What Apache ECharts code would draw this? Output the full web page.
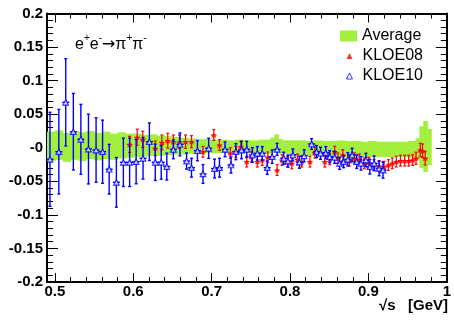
<!DOCTYPE html>
<html><head><meta charset="utf-8">
<script src="https://cdn.jsdelivr.net/npm/echarts@6/dist/echarts.min.js"></script>
<style>html,body{margin:0;padding:0;background:#fff}#c{width:454px;height:327px}</style>
</head><body><div id="c"></div>
<script>
// ---- tick labels ----
const xMajorTicks = [0.5, 0.6, 0.7, 0.8, 0.9, 1.0];
const xMinorTicks = [0.5,0.52,0.54,0.56,0.58,0.6,0.62,0.64,0.66,0.68,0.7,0.72,0.74,0.76,0.78,0.8,0.82,0.84,0.86,0.88,0.9,0.92,0.94,0.96,0.98,1.0];
const yTickLabels = [-0.2, -0.15, -0.1, -0.05, 0, 0.05, 0.1, 0.15, 0.2];

// ---- Average band (bin left edges, upper, lower); last edge closes the band ----
const bandX  = [0.49,0.50,0.51,0.52,0.53,0.54,0.55,0.56,0.57,0.58,0.59,0.60,0.61,0.62,0.63,0.64,0.65,0.66,0.67,0.68,0.69,0.70,0.71,0.72,0.73,0.74,0.75,0.76,0.77,0.775,0.78,0.785,0.79,0.80,0.81,0.82,0.83,0.84,0.85,0.86,0.87,0.88,0.89,0.90,0.91,0.92,0.93,0.94,0.95,0.96,0.965,0.97,0.975,0.98];
const bandHi = [0.024,0.026,0.022,0.025,0.023,0.025,0.022,0.024,0.021,0.023,0.021,0.021,0.019,0.020,0.018,0.017,0.016,0.015,0.014,0.013,0.013,0.012,0.012,0.011,0.012,0.011,0.011,0.012,0.012,0.015,0.020,0.013,0.011,0.011,0.011,0.010,0.011,0.010,0.010,0.011,0.010,0.010,0.009,0.010,0.009,0.009,0.009,0.009,0.010,0.014,0.032,0.040,0.028];
const bandLo = [-0.020,-0.018,-0.021,-0.018,-0.020,-0.017,-0.019,-0.017,-0.018,-0.016,-0.015,-0.014,-0.013,-0.012,-0.012,-0.011,-0.010,-0.010,-0.009,-0.009,-0.008,-0.008,-0.008,-0.007,-0.008,-0.008,-0.008,-0.008,-0.009,-0.007,-0.005,-0.009,-0.009,-0.010,-0.011,-0.012,-0.012,-0.013,-0.013,-0.013,-0.014,-0.014,-0.014,-0.014,-0.014,-0.014,-0.014,-0.014,-0.015,-0.018,-0.030,-0.036,-0.026];

// ---- KLOE10 ----
const k10X = [0.4938,0.5051,0.5139,0.5236,0.5332,0.5429,0.5526,0.5609,0.5693,0.5785,0.5874,0.5954,0.6037,0.6125,0.6206,0.6281,0.6357,0.6428,0.6512,0.6596,0.6680,0.6743,0.6819,0.6890,0.6962,0.7037,0.7100,0.7171,0.7247,0.7309,0.7381,0.7448,0.7520,0.7583,0.7646,0.7709,0.7772,0.7835,0.7919,0.7973,0.8036,0.8120,0.8180,0.8275,0.8338,0.8389,0.8456,0.8506,0.8569,0.8632,0.8683,0.8737,0.8792,0.8851,0.8905,0.8968,0.9018,0.9073,0.9136,0.9186];
const k10Y = [-0.0172,-0.0059,0.0677,0.0239,0.0126,-0.0019,-0.0034,-0.0059,-0.0320,-0.0515,-0.0217,-0.0217,-0.0207,-0.0157,0.0090,-0.0217,-0.0217,-0.0280,-0.0024,0.0050,-0.0198,-0.0297,-0.0044,-0.0390,-0.0008,-0.0310,-0.0297,-0.0024,-0.0257,-0.0058,-0.0034,-0.0024,-0.0108,-0.0083,-0.0083,-0.0297,-0.0133,-0.0024,-0.0157,-0.0198,-0.0108,-0.0215,-0.0120,0.0056,-0.0058,-0.0083,-0.0073,-0.0133,-0.0143,-0.0232,-0.0207,-0.0173,-0.0108,-0.0207,-0.0232,-0.0183,-0.0282,-0.0232,-0.0307,-0.0332];
const k10E = [0.070,0.063,0.065,0.057,0.052,0.052,0.048,0.047,0.037,0.037,0.036,0.036,0.033,0.031,0.028,0.027,0.025,0.020,0.014,0.017,0.012,0.014,0.015,0.014,0.015,0.014,0.014,0.011,0.012,0.012,0.013,0.012,0.011,0.010,0.010,0.010,0.010,0.009,0.009,0.009,0.009,0.009,0.009,0.008,0.009,0.009,0.009,0.009,0.009,0.009,0.009,0.010,0.010,0.010,0.010,0.010,0.011,0.011,0.011,0.012];

// ---- KLOE08 ----
const k08X = [0.5954,0.6050,0.6122,0.6281,0.6365,0.6440,0.6512,0.6590,0.6667,0.6743,0.6890,0.7028,0.7100,0.7239,0.7309,0.7373,0.7448,0.7507,0.7583,0.7646,0.7717,0.7835,0.7898,0.7969,0.8023,0.8095,0.8149,0.8254,0.8317,0.8443,0.8506,0.8569,0.8611,0.8674,0.8758,0.8821,0.8884,0.8947,0.9002,0.9073,0.9136,0.9199,0.9254,0.9304,0.9355,0.9409,0.9463,0.9514,0.9564,0.9607,0.9661,0.9690,0.9724];
const k08Y = [0.0050,0.0156,0.0126,-0.0008,0.0080,0.0106,0.0090,0.0090,0.0090,0.0090,-0.0060,0.0190,0.0040,-0.0080,-0.0060,0.0016,-0.0207,-0.0133,-0.0207,-0.0183,-0.0143,-0.0332,-0.0183,-0.0207,-0.0232,-0.0173,-0.0207,-0.0207,-0.0073,-0.0207,-0.0173,-0.0058,-0.0157,-0.0108,-0.0192,-0.0157,-0.0173,-0.0232,-0.0222,-0.0257,-0.0272,-0.0282,-0.0257,-0.0232,-0.0207,-0.0192,-0.0192,-0.0192,-0.0183,-0.0157,-0.0034,-0.0044,-0.0157];
const k08E = [0.012,0.012,0.012,0.011,0.011,0.011,0.010,0.010,0.010,0.009,0.008,0.008,0.008,0.008,0.008,0.008,0.008,0.008,0.008,0.008,0.008,0.008,0.008,0.008,0.008,0.008,0.008,0.008,0.008,0.008,0.008,0.008,0.008,0.008,0.008,0.008,0.008,0.008,0.008,0.008,0.008,0.008,0.008,0.008,0.008,0.008,0.008,0.008,0.008,0.009,0.010,0.010,0.010];

const FONT = '"Liberation Sans", Arial, Helvetica, sans-serif';
const GREEN = '#a2f03c';
const RED = '#ff0000';
const BLUE = '#0000ff';

const bandData = bandHi.map((h, i) => [bandX[i], bandX[i + 1], bandLo[i], h]);
const k10Data = k10X.map((x, i) => [x, k10Y[i], k10E[i]]);
const k08Data = k08X.map((x, i) => [x, k08Y[i], k08E[i]]);

function errRender(color, lw, dx) {
  return function (params, api) {
    const x = api.value(0), y = api.value(1), e = api.value(2);
    const c = api.coord([x, y]);
    const t = api.coord([x, y + e]);
    const b = api.coord([x, y - e]);
    const l = api.coord([x - dx, y]);
    const r = api.coord([x + dx, y]);
    const st = { stroke: color, lineWidth: lw };
    return { type: 'group', children: [
      { type: 'line', shape: { x1: c[0], y1: t[1], x2: c[0], y2: b[1] }, style: st },
      { type: 'line', shape: { x1: l[0], y1: c[1], x2: r[0], y2: c[1] }, style: st },
      { type: 'line', shape: { x1: c[0] - 1.5, y1: t[1], x2: c[0] + 1.5, y2: t[1] }, style: st },
      { type: 'line', shape: { x1: c[0] - 1.5, y1: b[1], x2: c[0] + 1.5, y2: b[1] }, style: st }
    ]};
  };
}

const axisLbl = { fontFamily: FONT, fontWeight: 'bold', fontSize: 15, color: '#000' };
function xAx(pos, major, showLine, showLabel) {
  return {
    type: 'value', min: 0.49, max: 1.0, position: pos,
    axisLine: { show: showLine, onZero: false, lineStyle: { color: '#000', width: 2 } },
    axisTick: { show: true, inside: true, length: major ? 9 : 5,
      customValues: major ? xMajorTicks : xMinorTicks, lineStyle: { color: '#000', width: 1 } },
    axisLabel: Object.assign({ show: showLabel, customValues: xMajorTicks, margin: 2,
      formatter: v => String(+v.toFixed(2)) }, axisLbl),
    splitLine: { show: false }
  };
}
function yAx(pos, showLabel) {
  return {
    type: 'value', min: -0.2, max: 0.2, interval: 0.05, position: pos,
    axisLine: { show: true, onZero: false, lineStyle: { color: '#000', width: 2 } },
    axisTick: { show: true, inside: true, length: 11, lineStyle: { color: '#000', width: 1 } },
    minorTick: { show: true, splitNumber: 5, length: 6, lineStyle: { color: '#000', width: 1 } },
    axisLabel: Object.assign({ show: showLabel, margin: 4,
      formatter: v => Math.abs(v) < 1e-9 ? '-0' : String(+v.toFixed(2)) }, axisLbl),
    splitLine: { show: false }
  };
}

const chart = echarts.init(document.getElementById('c'), null, { renderer: 'canvas' });
chart.setOption({
  animation: false,
  backgroundColor: '#fff',
  grid: { left: 47, right: 2, top: 13.5, bottom: 45, containLabel: false },
  xAxis: [xAx('bottom', true, true, true), xAx('bottom', false, false, false),
          xAx('top', true, true, false), xAx('top', false, false, false)],
  yAxis: [yAx('left', true), yAx('right', false)],
  title: {
    text: '{m|e}{s|+}{m|e}{s|-}{a|→}{m|π}{s|+}{m|π}{s|-}',
    left: 70, top: 28,
    textStyle: { fontWeight: 'normal', rich: {
      m: { fontFamily: FONT, fontWeight: 'normal', fontSize: 16, color: '#000', lineHeight: 20, verticalAlign: 'bottom' },
      a: { fontFamily: '"DejaVu Sans", sans-serif', fontWeight: 'normal', fontSize: 16, color: '#000', lineHeight: 20, verticalAlign: 'bottom' },
      s: { fontFamily: FONT, fontWeight: 'normal', fontSize: 10, color: '#000', lineHeight: 10, verticalAlign: 'top' }
    } }
  },
  legend: [
    { data: [{ name: 'Average', icon: 'rect', itemStyle: { color: GREEN } }],
      left: 335, top: 21, itemWidth: 17, itemHeight: 11, selectedMode: false,
      textStyle: { fontFamily: FONT, fontSize: 16, color: '#000', lineHeight: 20 } },
    { data: [
        { name: 'KLOE08', icon: 'triangle', itemStyle: { color: RED, borderWidth: 0 } },
        { name: 'KLOE10', icon: 'triangle', itemStyle: { color: '#fff', borderColor: BLUE, borderWidth: 1 } }
      ],
      orient: 'vertical', left: 341, top: 41, itemWidth: 6, itemHeight: 6, itemGap: 0, selectedMode: false,
      textStyle: { fontFamily: FONT, fontSize: 16, color: '#000', lineHeight: 20, padding: [0, 0, 0, 5] } }
  ],
  graphic: [{
    type: 'text', right: 6, top: 298,
    style: { text: '√s   [GeV]', fontFamily: FONT, fontWeight: 'bold', fontSize: 15, fill: '#000' }
  }],
  series: [
    { name: 'Average', type: 'custom', xAxisIndex: 0, yAxisIndex: 0, data: bandData,
      encode: { x: [0, 1], y: [2, 3] }, itemStyle: { color: GREEN }, z: 1,
      renderItem: function (params, api) {
        const p0 = api.coord([api.value(0), api.value(3)]);
        const p1 = api.coord([api.value(1), api.value(2)]);
        return { type: 'rect', shape: { x: p0[0], y: p0[1], width: p1[0] - p0[0] + 0.6, height: p1[1] - p0[1] },
          style: { fill: GREEN } };
      } },
    { name: 'KLOE08 err', type: 'custom', data: k08Data, encode: { x: 0, y: 1 }, z: 3,
      renderItem: errRender(RED, 1.2, 0.0035) },
    { name: 'KLOE08', type: 'scatter', data: k08Data, encode: { x: 0, y: 1 }, z: 4,
      symbol: 'triangle', symbolSize: 5, itemStyle: { color: RED } },
    { name: 'KLOE10 err', type: 'custom', data: k10Data, encode: { x: 0, y: 1 }, z: 5,
      renderItem: errRender(BLUE, 1.4, 0.0045) },
    { name: 'KLOE10', type: 'scatter', data: k10Data, encode: { x: 0, y: 1 }, z: 6,
      symbol: 'triangle', symbolSize: 5.5,
      itemStyle: { color: '#fff', borderColor: BLUE, borderWidth: 1.2 } }
  ]
});
</script>
</body></html>
